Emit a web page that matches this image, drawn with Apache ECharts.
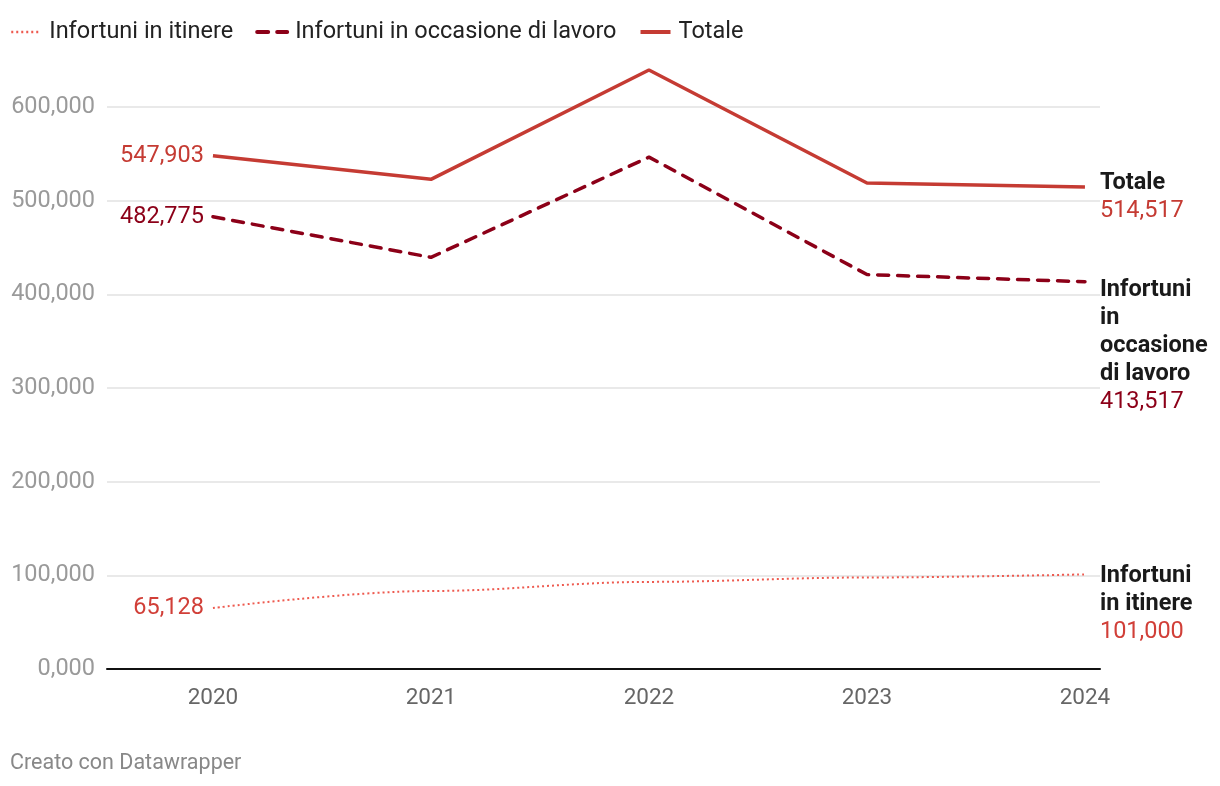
<!DOCTYPE html>
<html>
<head>
<meta charset="utf-8">
<script src="https://cdn.jsdelivr.net/npm/echarts@6/dist/echarts.min.js"></script>
<style>
html,body{margin:0;padding:0;background:#fff;}
#c{width:1220px;height:786px;}
</style>
</head>
<body>
<div id="c"></div>
<script>
const years = [2020, 2021, 2022, 2023, 2024];
const itinere = [65128, 83300, 93000, 97700, 101000];
const lavoro = [482775, 439500, 546500, 421100, 413517];
const totale = [547903, 522800, 639500, 518800, 514517];

const FONT = 'Roboto';
const C_TOT = '#c53b33';
const C_LAV = '#8c0018';
const C_ITI = '#ee5a4f';
const FS = 23.5;

function fmt(v){ return v === 0 ? '0,000' : v.toLocaleString('en-US'); }

function pairs(vals, color){
  return years.map((y,i)=> i === 0 ? {
    value: [y, vals[i]],
    label: {show: true, position: 'left', distance: 9, formatter: fmt(vals[i]),
            color: color, fontFamily: FONT, fontSize: FS}
  } : [y, vals[i]]);
}

function endLbl(lines, value, color, dy){
  return {
    show: true, distance: 15, offset: [0, dy], align: 'left',
    formatter: lines.map(l => '{n|' + l + '}').join('\n') + '\n{v|' + value + '}',
    rich: {
      n: {fontFamily: FONT, fontSize: FS, fontWeight: 'bold', color: '#1a1a1a', lineHeight: 28},
      v: {fontFamily: FONT, fontSize: FS, color: color, lineHeight: 28}
    }
  };
}

const chart = echarts.init(document.getElementById('c'), null, {renderer:'canvas'});
chart.setOption({
  animation: false,
  textStyle: {fontFamily: FONT},
  legend: {
    left: 5, top: 15, itemWidth: 30, itemHeight: 10, itemGap: 22,
    itemStyle: {opacity: 0},
    textStyle: {fontFamily: FONT, fontSize: FS, color: '#222', padding: [0, 0, 0, 3]},
    data: [
      {name: 'Infortuni in itinere', lineStyle: {width: 2.5}},
      {name: 'Infortuni in occasione di lavoro', lineStyle: {width: 4}},
      {name: 'Totale', lineStyle: {width: 4}}
    ]
  },
  title: {
    text: 'Creato con Datawrapper', left: 5, bottom: 6,
    textStyle: {fontFamily: FONT, fontSize: 21.5, fontWeight: 'normal', color: '#888'}
  },
  grid: {left: 107, right: 120, top: 107, bottom: 117},
  xAxis: {
    type: 'value', min: 2019.514, max: 2024.069,
    axisLine: {show: true, onZero: false, lineStyle: {color: '#111', width: 2}},
    axisTick: {show: false},
    splitLine: {show: false},
    axisLabel: {
      customValues: years, formatter: v => String(Math.round(v)),
      color: '#666', fontFamily: FONT, fontSize: 22.5, margin: 18
    }
  },
  yAxis: {
    type: 'value', min: 0, max: 600000, interval: 100000,
    axisLine: {show: false}, axisTick: {show: false},
    splitLine: {lineStyle: {color: '#e2e2e2', width: 1.5}},
    axisLabel: {formatter: v => fmt(v), color: '#9a9a9a', fontFamily: FONT, fontSize: FS, margin: 12}
  },
  series: [
    {
      name: 'Infortuni in itinere', type: 'line', data: pairs(itinere, '#d13f38'),
      clip: false, symbol: 'circle', symbolSize: 0, showSymbol: true,
      smooth: 0.35, smoothMonotone: 'x',
      lineStyle: {color: C_ITI, width: 2, type: [2, 3]},
      itemStyle: {color: C_ITI},
      endLabel: endLbl(['Infortuni', 'in itinere'], '101,000', '#d13f38', 30)
    },
    {
      name: 'Infortuni in occasione di lavoro', type: 'line', data: pairs(lavoro, C_LAV),
      clip: false, symbol: 'circle', symbolSize: 0, showSymbol: true,
      lineStyle: {color: C_LAV, width: 3.5, type: [11, 9], cap: 'round'},
      itemStyle: {color: C_LAV},
      endLabel: endLbl(['Infortuni', 'in', 'occasione', 'di lavoro'], '413,517', C_LAV, 64)
    },
    {
      name: 'Totale', type: 'line', data: pairs(totale, C_TOT),
      clip: false, symbol: 'circle', symbolSize: 0, showSymbol: true,
      lineStyle: {color: C_TOT, width: 3.5},
      itemStyle: {color: C_TOT},
      endLabel: endLbl(['Totale'], '514,517', C_TOT, 10)
    }
  ]
});
</script>
</body>
</html>
